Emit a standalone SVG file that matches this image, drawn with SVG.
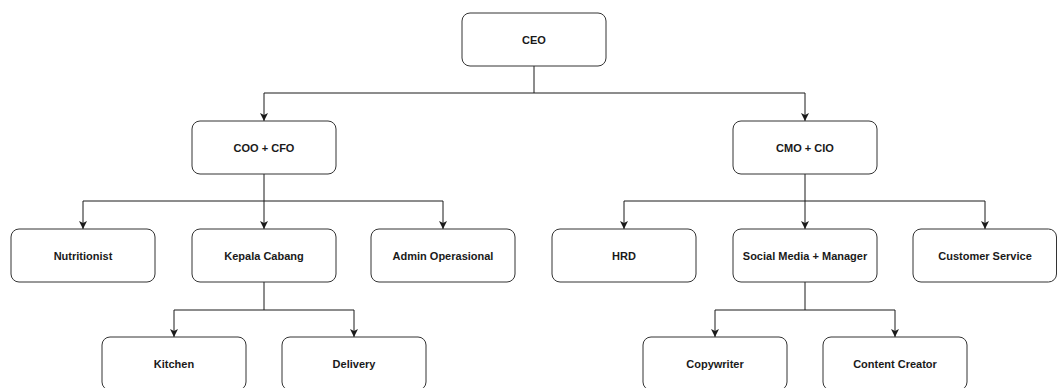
<svg xmlns="http://www.w3.org/2000/svg" width="1057" height="388" viewBox="0 0 1057 388">
<style>
.box{fill:#ffffff;stroke:#333333;stroke-width:1}
.lbl{font-family:"Liberation Sans",Arial,sans-serif;font-size:11px;font-weight:bold;fill:#1a1a1a;text-anchor:middle;dominant-baseline:central}
.edge{fill:none;stroke:#1a1a1a;stroke-width:1;marker-end:url(#arr)}
.seg{fill:none;stroke:#1a1a1a;stroke-width:1}
</style>
<defs>
<marker id="arr" viewBox="0 0 10 10" refX="10" refY="5" markerWidth="8" markerHeight="8" markerUnits="userSpaceOnUse" orient="auto">
<path d="M0,0 L10,5 L0,10 L2.5,5 Z" fill="#1a1a1a"/>
</marker>
</defs>
<rect width="1057" height="388" fill="#ffffff"/>
<g id="connectors">
<path class="seg" d="M534,66 V93"/>
<path class="edge" d="M534,93 H264 V121"/>
<path class="edge" d="M534,93 H805 V121"/>
<path class="seg" d="M264,174 V201"/>
<path class="edge" d="M264,201 H83 V229"/>
<path class="edge" d="M264,201 V229"/>
<path class="edge" d="M264,201 H443 V229"/>
<path class="seg" d="M805,174 V201"/>
<path class="edge" d="M805,201 H624 V229"/>
<path class="edge" d="M805,201 V229"/>
<path class="edge" d="M805,201 H985 V229"/>
<path class="seg" d="M264,282 V310"/>
<path class="edge" d="M264,310 H174 V337"/>
<path class="edge" d="M264,310 H354 V337"/>
<path class="seg" d="M805,282 V310"/>
<path class="edge" d="M805,310 H715 V337"/>
<path class="edge" d="M805,310 H895 V337"/>
</g>
<g id="ceo"><rect class="box" x="462" y="13" width="144" height="53" rx="8"/><text class="lbl" x="534" y="39.5">CEO</text></g>
<g id="coo-cfo"><rect class="box" x="192" y="121" width="144" height="53" rx="8"/><text class="lbl" x="264" y="147.5">COO + CFO</text></g>
<g id="cmo-cio"><rect class="box" x="733" y="121" width="144" height="53" rx="8"/><text class="lbl" x="805" y="147.5">CMO + CIO</text></g>
<g id="nutritionist"><rect class="box" x="11" y="229" width="144" height="53" rx="8"/><text class="lbl" x="83" y="255.5">Nutritionist</text></g>
<g id="kepala-cabang"><rect class="box" x="192" y="229" width="144" height="53" rx="8"/><text class="lbl" x="264" y="255.5">Kepala Cabang</text></g>
<g id="admin-operasional"><rect class="box" x="371" y="229" width="144" height="53" rx="8"/><text class="lbl" x="443" y="255.5">Admin Operasional</text></g>
<g id="hrd"><rect class="box" x="552" y="229" width="144" height="53" rx="8"/><text class="lbl" x="624" y="255.5">HRD</text></g>
<g id="social-media"><rect class="box" x="733" y="229" width="144" height="53" rx="8"/><text class="lbl" x="805" y="255.5">Social Media + Manager</text></g>
<g id="customer-service"><rect class="box" x="913" y="229" width="143.5" height="53" rx="8"/><text class="lbl" x="985" y="255.5">Customer Service</text></g>
<g id="kitchen"><rect class="box" x="102" y="337" width="144" height="53" rx="8"/><text class="lbl" x="174" y="363.5">Kitchen</text></g>
<g id="delivery"><rect class="box" x="282" y="337" width="144" height="53" rx="8"/><text class="lbl" x="354" y="363.5">Delivery</text></g>
<g id="copywriter"><rect class="box" x="643" y="337" width="144" height="53" rx="8"/><text class="lbl" x="715" y="363.5">Copywriter</text></g>
<g id="content-creator"><rect class="box" x="823" y="337" width="144" height="53" rx="8"/><text class="lbl" x="895" y="363.5">Content Creator</text></g>
</svg>
